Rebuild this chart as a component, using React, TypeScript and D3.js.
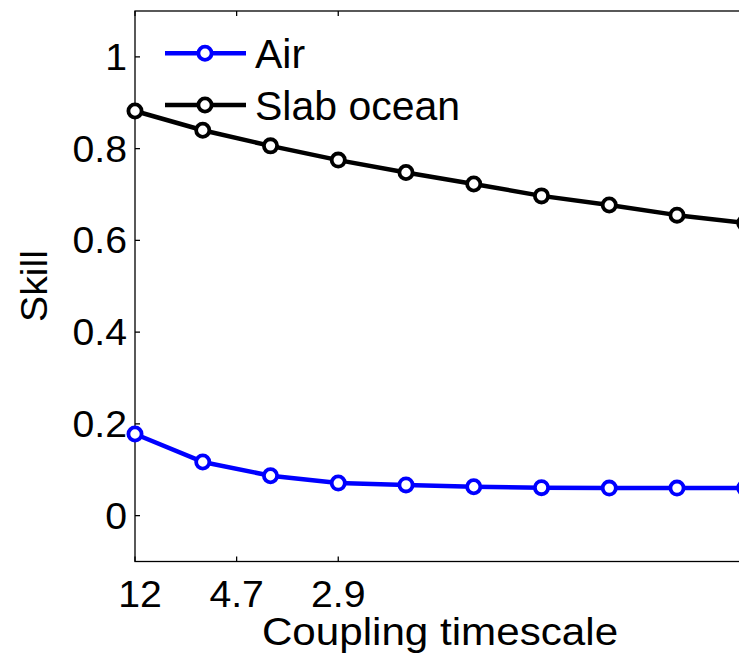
import React from "react";
import * as d3 from "d3";

const pointIndex = [0, 1, 2, 3, 4, 5, 6, 7, 8, 9];
const airSkill = [0.178, 0.117, 0.087, 0.071, 0.067, 0.063, 0.061, 0.060, 0.060, 0.060];
const slabSkill = [0.882, 0.840, 0.806, 0.775, 0.748, 0.723, 0.697, 0.677, 0.655, 0.638];
const xTickPos = [0, 1.5, 3];
const xTickLabels = ["12", "4.7", "2.9"];
const yTicks = [0, 0.2, 0.4, 0.6, 0.8, 1];
const seriesNames = ["Air", "Slab ocean"];
const seriesColors = ["#0000ff", "#000000"];

const W = 739;
const H = 659;
const FONT = "'Liberation Sans', Arial, Helvetica, sans-serif";

export default function App() {
  const x = d3.scaleLinear().domain([0, 9.5]).range([135, 135 + 9.5 * 67.75]);
  const y = d3.scaleLinear().domain([-0.1, 1.1]).range([561.5, 11]);
  const left = x(0);
  const right = x(9.5);
  const top = y(1.1);
  const bottom = y(-0.1);
  const line = d3
    .line<number>()
    .x((_, i) => x(pointIndex[i]))
    .y((d) => y(d));
  const series = [airSkill, slabSkill];
  const tickLen = 5;

  return (
    <svg
      width={W}
      height={H}
      style={{ position: "absolute", left: 0, top: 0, background: "#fff" }}
      fontFamily={FONT}
    >
      <rect x={0} y={0} width={W} height={H} fill="#fff" />
      <rect x={left} y={top} width={right - left} height={bottom - top} fill="none" stroke="#000" strokeWidth={1.3} />
      {yTicks.map((t) => (
        <g key={"y" + t}>
          <line x1={left} x2={left + tickLen} y1={y(t)} y2={y(t)} stroke="#000" strokeWidth={1.3} />
          <text
            transform={`translate(127,${y(t) + 13}) scale(1.06,1)`}
            textAnchor="end"
            fontSize={37}
            fill="#000"
          >
            {String(t)}
          </text>
        </g>
      ))}
      {xTickPos.map((p, i) => (
        <g key={"x" + i}>
          <line x1={x(p)} x2={x(p)} y1={bottom} y2={bottom - tickLen} stroke="#000" strokeWidth={1.3} />
          <line x1={x(p)} x2={x(p)} y1={top} y2={top + tickLen} stroke="#000" strokeWidth={1.3} />
          <text
            transform={`translate(${x(p) + (i === 0 ? 5 : 0)},607) scale(1.06,1)`}
            textAnchor="middle"
            fontSize={37}
            fill="#000"
          >
            {xTickLabels[i]}
          </text>
        </g>
      ))}
      <text transform="translate(440,645) scale(1.11,1)" textAnchor="middle" fontSize={38} fill="#000">
        Coupling timescale
      </text>
      <text transform="translate(46.5,286) rotate(-90) scale(1.06,1)" textAnchor="middle" fontSize={37} fill="#000">
        Skill
      </text>
      {series.map((s, k) => (
        <g key={"s" + k}>
          <path d={line(s) || ""} fill="none" stroke={seriesColors[k]} strokeWidth={4.5} strokeLinejoin="round" />
          {s.map((v, i) => (
            <circle
              key={i}
              cx={x(pointIndex[i])}
              cy={y(v)}
              r={6.6}
              fill="#fff"
              stroke={seriesColors[k]}
              strokeWidth={3.8}
            />
          ))}
        </g>
      ))}
      {seriesNames.map((n, k) => {
        const ly = k === 0 ? 53.3 : 105;
        return (
          <g key={"l" + k}>
            <line x1={165} x2={246} y1={ly} y2={ly} stroke={seriesColors[k]} strokeWidth={4.5} />
            <circle cx={205} cy={ly} r={6.6} fill="#fff" stroke={seriesColors[k]} strokeWidth={3.8} />
            <text x={255} y={ly + 15} fontSize={41} fill="#000">
              {n}
            </text>
          </g>
        );
      })}
    </svg>
  );
}
